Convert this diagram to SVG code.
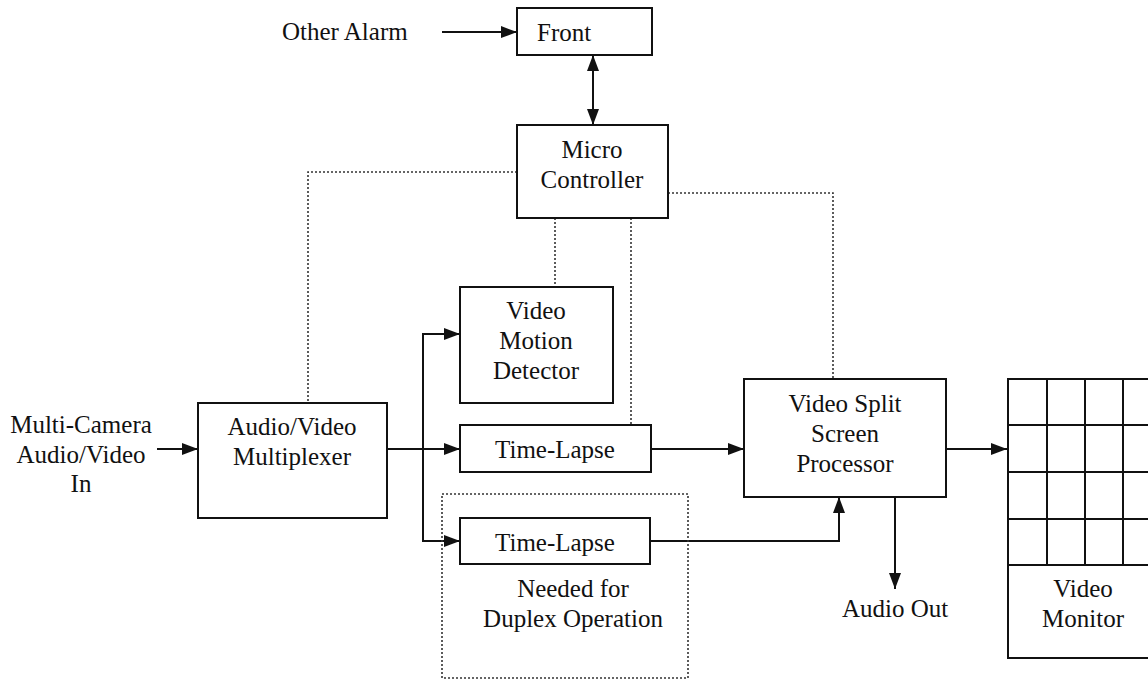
<svg xmlns="http://www.w3.org/2000/svg" width="1148" height="680" viewBox="0 0 1148 680">
<style>
.box{fill:none;stroke:#111;stroke-width:2}
.ln{fill:none;stroke:#111;stroke-width:2}
.dot{fill:none;stroke:#333;stroke-width:1.6;stroke-dasharray:2 2}
text{font-family:"Liberation Serif","Times New Roman",serif;font-size:25px;fill:#111}
.c{text-anchor:middle}
</style>
<defs>
<marker id="ah" viewBox="0 0 16 12" refX="16" refY="6" markerWidth="16" markerHeight="12" markerUnits="userSpaceOnUse" orient="auto-start-reverse">
<path d="M0,0 L16,6 L0,12 Z" fill="#111"/>
</marker>
</defs>
<rect width="1148" height="680" fill="#fff"/>
<g id="connectors">
<line class="ln" x1="442" y1="32" x2="517" y2="32" marker-end="url(#ah)"/>
<line class="ln" x1="593" y1="55" x2="593" y2="125" marker-start="url(#ah)" marker-end="url(#ah)"/>
<line class="ln" x1="157" y1="449" x2="198" y2="449" marker-end="url(#ah)"/>
<polyline class="ln" points="387,449 460,449" marker-end="url(#ah)"/>
<polyline class="ln" points="460,334 423,334 423,541 460,541"/>
<line class="ln" x1="444" y1="334" x2="460" y2="334" marker-end="url(#ah)"/>
<line class="ln" x1="444" y1="541" x2="460" y2="541" marker-end="url(#ah)"/>
<line class="ln" x1="651" y1="449" x2="744" y2="449" marker-end="url(#ah)"/>
<polyline class="ln" points="650,541 839,541 839,497" marker-end="url(#ah)"/>
<line class="ln" x1="895" y1="497" x2="895" y2="589" marker-end="url(#ah)"/>
<line class="ln" x1="946" y1="449" x2="1007" y2="449" marker-end="url(#ah)"/>
<polyline class="dot" points="517,172 308,172 308,403"/>
<line class="dot" x1="555" y1="218" x2="555" y2="287"/>
<line class="dot" x1="631" y1="218" x2="631" y2="425"/>
<polyline class="dot" points="668,193 833,193 833,379"/>
</g>
<g id="other-alarm"><text x="282" y="40">Other Alarm</text></g>
<g id="front"><rect class="box" x="517" y="8" width="135" height="47"/><text x="537" y="41">Front</text></g>
<g id="micro-controller"><rect class="box" x="517" y="125" width="151" height="93"/><text class="c" x="592" y="158">Micro</text><text class="c" x="592" y="188">Controller</text></g>
<g id="multi-camera-in"><text class="c" x="81" y="433">Multi-Camera</text><text class="c" x="81" y="463">Audio/Video</text><text class="c" x="81" y="492">In</text></g>
<g id="multiplexer"><rect class="box" x="198" y="403" width="189" height="115"/><text class="c" x="292" y="435">Audio/Video</text><text class="c" x="292" y="465">Multiplexer</text></g>
<g id="video-motion-detector"><rect class="box" x="460" y="287" width="153" height="116"/><text class="c" x="536" y="319">Video</text><text class="c" x="536" y="349">Motion</text><text class="c" x="536" y="379">Detector</text></g>
<g id="time-lapse-1"><rect class="box" x="460" y="425" width="191" height="47"/><text class="c" x="555" y="458">Time-Lapse</text></g>
<g id="duplex-group"><rect class="dot" x="442" y="494" width="246" height="184"/><text class="c" x="573" y="597">Needed for</text><text class="c" x="573" y="627">Duplex Operation</text></g>
<g id="time-lapse-2"><rect class="box" x="460" y="518" width="190" height="46"/><text class="c" x="555" y="551">Time-Lapse</text></g>
<g id="video-split"><rect class="box" x="744" y="379" width="202" height="118"/><text class="c" x="845" y="412">Video Split</text><text class="c" x="845" y="442">Screen</text><text class="c" x="845" y="472">Processor</text></g>
<g id="audio-out"><text class="c" x="895" y="617">Audio Out</text></g>
<g id="video-monitor">
<rect class="box" x="1008" y="379" width="160" height="279"/>
<path class="ln" d="M1047,379V565M1085,379V565M1123,379V565M1008,425H1148M1008,472H1148M1008,519H1148M1008,565H1148"/>
<text class="c" x="1083" y="597">Video</text><text class="c" x="1083" y="627">Monitor</text>
</g>
</svg>
